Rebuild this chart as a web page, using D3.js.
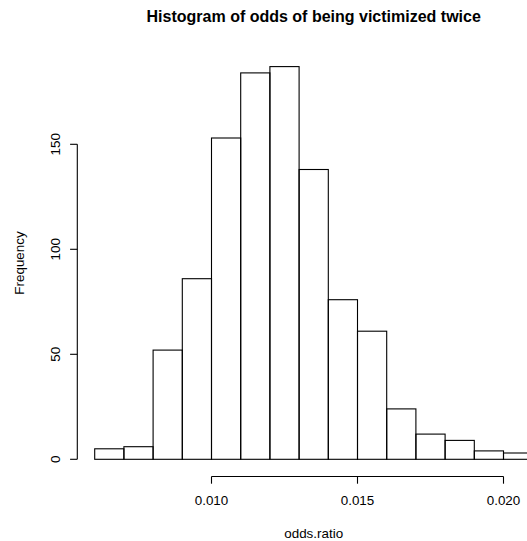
<!DOCTYPE html>
<html><head><meta charset="utf-8">
<script src="https://cdn.jsdelivr.net/npm/d3@7"></script>
<style>body{margin:0;background:#fff}svg{display:block}text{font-family:"Liberation Sans",Arial,sans-serif;fill:#000}</style>
</head><body>
<script>
const binStarts = [0.006,0.007,0.008,0.009,0.010,0.011,0.012,0.013,0.014,0.015,0.016,0.017,0.018,0.019,0.020];
const binWidth = 0.001;
const counts = [5,6,52,86,153,184,187,138,76,61,24,12,9,4,3];
const xTicks = [0.010,0.015,0.020];
const yTicks = [0,50,100,150];
const title = "Histogram of odds of being victimized twice";
const xLabel = "odds.ratio";
const yLabel = "Frequency";

const W=527,H=541;
const svg=d3.select("body").append("svg").attr("width",W).attr("height",H);
const x=d3.scaleLinear().domain([0.006,0.021]).range([94.7,532.7]);
const y=d3.scaleLinear().domain([0,150]).range([459.3,144.3]);
const cx = x(0.0135);

svg.append("g").selectAll("rect").data(binStarts).join("rect")
  .attr("x",(d)=>x(d)).attr("width",(d)=>x(d+binWidth)-x(d))
  .attr("y",(d,i)=>y(counts[i])).attr("height",(d,i)=>y(0)-y(counts[i]))
  .attr("fill","none").attr("stroke","#000").attr("stroke-width",1.1);

// x axis
const xa=svg.append("g").attr("transform","translate(0,476.5)");
xa.append("line").attr("x1",x(xTicks[0])).attr("x2",x(xTicks[xTicks.length-1])).attr("stroke","#000").attr("stroke-width",1.1);
xa.selectAll(".t").data(xTicks).join("line").attr("x1",d=>x(d)).attr("x2",d=>x(d)).attr("y1",0).attr("y2",7.2).attr("stroke","#000").attr("stroke-width",1.1);
xa.selectAll("text").data(xTicks).join("text").attr("x",d=>x(d)).attr("y",28.5).attr("text-anchor","middle").attr("font-size",13.4).text(d=>d3.format(".3f")(d));

// y axis
const ya=svg.append("g").attr("transform","translate(77.3,0)");
ya.append("line").attr("y1",y(yTicks[0])).attr("y2",y(yTicks[yTicks.length-1])).attr("stroke","#000").attr("stroke-width",1.1);
ya.selectAll(".t").data(yTicks).join("line").attr("y1",d=>y(d)).attr("y2",d=>y(d)).attr("x1",0).attr("x2",-7.2).attr("stroke","#000").attr("stroke-width",1.1);
ya.selectAll("text").data(yTicks).join("text").attr("transform",d=>`translate(-17.8,${y(d)}) rotate(-90)`).attr("text-anchor","middle").attr("font-size",13.4).text(d=>d);

svg.append("text").attr("x",cx).attr("y",21.7).attr("text-anchor","middle").attr("font-size",16).attr("font-weight","bold").text(title);
svg.append("text").attr("x",cx).attr("y",538).attr("text-anchor","middle").attr("font-size",13.4).text(xLabel);
svg.append("text").attr("transform","translate(23.5,263) rotate(-90)").attr("text-anchor","middle").attr("font-size",13.4).text(yLabel);
</script>
</body></html>
